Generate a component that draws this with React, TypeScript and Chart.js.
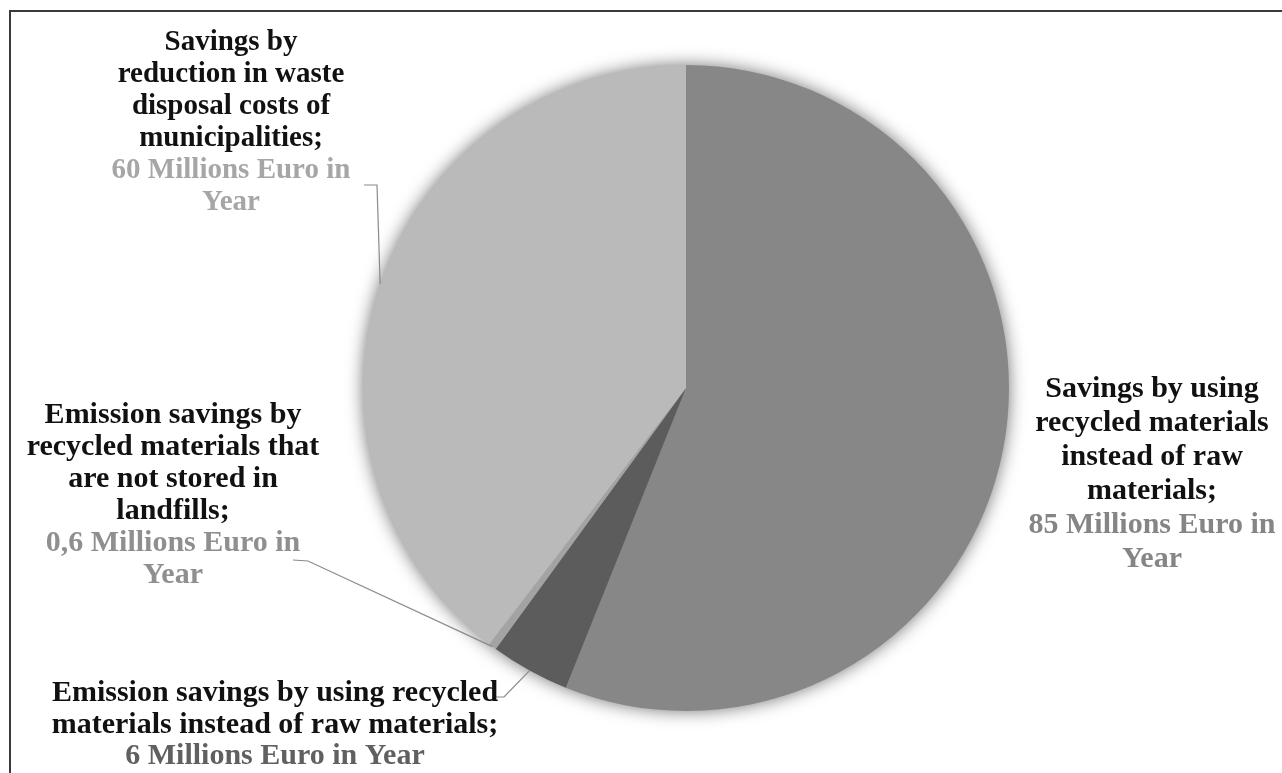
import React, { useEffect, useRef } from "react";
import { Chart, registerables } from "chart.js";

Chart.register(...registerables);

const categories = [
  "Savings by using recycled materials instead of raw materials",
  "Emission savings by using recycled materials instead of raw materials",
  "Emission savings by recycled materials that are not stored in landfills",
  "Savings by reduction in waste disposal costs of municipalities",
];
const values = [85, 6, 0.6, 60];
const sliceColors = ["#878787", "#5c5c5c", "#a3a3a3", "#bababa"];
const valueColors = ["#858585", "#606060", "#8f8f8f", "#a6a6a6"];

const nameLines = [
  ["Savings by using", "recycled materials", "instead of raw", "materials;"],
  ["Emission savings by using recycled", "materials instead of raw materials;"],
  ["Emission savings by", "recycled materials that", "are not stored in", "landfills;"],
  ["Savings by", "reduction in waste", "disposal costs of", "municipalities;"],
];
const valueLines = [
  ["85 Millions Euro in", "Year"],
  ["6 Millions Euro in Year"],
  ["0,6 Millions Euro in", "Year"],
  ["60 Millions Euro in", "Year"],
];

// label layout: centre x, first baseline, line step, font size
const labelLayout = [
  { cx: 1152, y0: 397, step: 34, size: 30 },
  { cx: 275, y0: 701, step: 31.5, size: 30 },
  { cx: 173, y0: 423, step: 32, size: 30 },
  { cx: 231, y0: 50, step: 32, size: 29 },
];
// leader line elbow points (label side), null = no leader
const leaderPoints: (number[][] | null)[] = [
  null,
  [[494, 697], [504, 697]],
  [[293, 560], [308, 561]],
  [[364, 185], [377, 185]],
];

const framePlugin = {
  id: "frame",
  beforeDraw(chart: any) {
    const ctx = chart.ctx;
    ctx.save();
    ctx.fillStyle = "#ffffff";
    ctx.fillRect(0, 0, chart.width, chart.height);
    ctx.strokeStyle = "#3a3a3a";
    ctx.lineWidth = 2;
    ctx.beginPath();
    ctx.moveTo(10, chart.height);
    ctx.lineTo(10, 11);
    ctx.lineTo(chart.width, 11);
    ctx.stroke();
    ctx.restore();
  },
};

const shadowPlugin = {
  id: "pieShadow",
  beforeDatasetsDraw(chart: any) {
    const arc = chart.getDatasetMeta(0).data[0];
    if (!arc) return;
    const ctx = chart.ctx;
    ctx.save();
    ctx.shadowColor = "rgba(0,0,0,0.6)";
    ctx.shadowBlur = 18;
    ctx.fillStyle = "#9a9a9a";
    ctx.beginPath();
    ctx.arc(arc.x, arc.y, arc.outerRadius - 1, 0, Math.PI * 2);
    ctx.fill();
    ctx.restore();
  },
};

const labelPlugin = {
  id: "sliceLabels",
  afterDatasetsDraw(chart: any) {
    const ctx = chart.ctx;
    const meta = chart.getDatasetMeta(0);
    ctx.save();
    meta.data.forEach((arc: any, i: number) => {
      const pts = leaderPoints[i];
      if (pts) {
        const mid = (arc.startAngle + arc.endAngle) / 2;
        const ex = arc.x + arc.outerRadius * Math.cos(mid);
        const ey = arc.y + arc.outerRadius * Math.sin(mid);
        ctx.strokeStyle = "#8a8a8a";
        ctx.lineWidth = 1.2;
        ctx.beginPath();
        ctx.moveTo(pts[0][0], pts[0][1]);
        for (let k = 1; k < pts.length; k++) ctx.lineTo(pts[k][0], pts[k][1]);
        ctx.lineTo(ex, ey);
        ctx.stroke();
      }
      const L = labelLayout[i];
      ctx.font = `bold ${L.size}px "Liberation Serif", "Times New Roman", serif`;
      ctx.textAlign = "center";
      ctx.textBaseline = "alphabetic";
      let y = L.y0;
      nameLines[i].forEach((t) => {
        ctx.fillStyle = "#111111";
        ctx.fillText(t, L.cx, y);
        y += L.step;
      });
      valueLines[i].forEach((t) => {
        ctx.fillStyle = valueColors[i];
        ctx.fillText(t, L.cx, y);
        y += L.step;
      });
    });
    ctx.restore();
  },
};

export default function App() {
  const ref = useRef<HTMLCanvasElement | null>(null);
  useEffect(() => {
    if (!ref.current) return;
    const chart = new Chart(ref.current, {
      type: "pie",
      data: {
        labels: categories,
        datasets: [
          {
            data: values,
            backgroundColor: sliceColors,
            borderWidth: 0,
          },
        ],
      },
      options: {
        animation: false,
        responsive: false,
        devicePixelRatio: 1,
        layout: { padding: { top: 65, bottom: 62, left: 363, right: 273 } },
        plugins: {
          legend: { display: false },
          tooltip: { enabled: false },
        },
      },
      plugins: [framePlugin, shadowPlugin, labelPlugin],
    } as any);
    return () => chart.destroy();
  }, []);
  return (
    <div style={{ position: "fixed", left: 0, top: 0, width: 1282, height: 773, background: "#fff" }}>
      <canvas ref={ref} width={1282} height={773} style={{ display: "block" }} />
    </div>
  );
}
